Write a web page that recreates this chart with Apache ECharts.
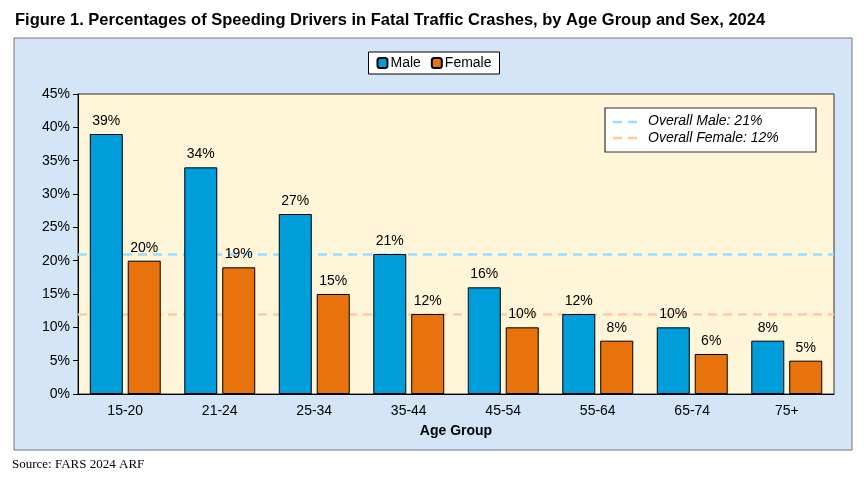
<!DOCTYPE html>
<html>
<head>
<meta charset="utf-8">
<script src="https://cdn.jsdelivr.net/npm/echarts@6/dist/echarts.min.js"></script>
<style>
  html, body { margin: 0; padding: 0; background: #fff; }
  #chart { width: 868px; height: 480px; }
</style>
</head>
<body>
<div id="chart"></div>
<script>
// data
var ageGroups = ['15-20', '21-24', '25-34', '35-44', '45-54', '55-64', '65-74', '75+'];
var maleValues = [39, 34, 27, 21, 16, 12, 10, 8];
var femaleValues = [20, 19, 15, 12, 10, 8, 6, 5];
var overallMale = 21;
var overallFemale = 12;

var font = 'Liberation Sans, Arial, sans-serif';
var myChart = echarts.init(document.getElementById('chart'));

var labelOpt = {
  show: true, position: 'top', distance: 6,
  formatter: '{c}%', color: '#000', fontSize: 14, fontFamily: font
};

var option = {
  animation: false,
  title: {
    text: 'Figure 1. Percentages of Speeding Drivers in Fatal Traffic Crashes, by Age Group and Sex, 2024',
    left: 10, top: 7,
    textStyle: { fontSize: 16.5, fontWeight: 'bold', color: '#000', fontFamily: font }
  },
  graphic: [
    // outer light blue panel
    { type: 'rect', z: -10, shape: { x: 14, y: 38, width: 838, height: 412 },
      style: { fill: '#D3E5F6', stroke: '#777', lineWidth: 1 } },
    { type: 'text', left: 12, top: 458,
      style: { text: 'Source: FARS 2024 ARF', fontSize: 13, fontFamily: 'Liberation Serif, serif', fill: '#000' } },
    // inner legend for the overall lines
    { type: 'rect', z: 10, shape: { x: 605, y: 108, width: 211, height: 44 },
      style: { fill: '#fff', stroke: '#333', lineWidth: 1.2 } },
    { type: 'line', z: 11, shape: { x1: 613, y1: 122, x2: 642, y2: 122 },
      style: { stroke: '#99DDFF', lineWidth: 2.5, lineDash: [9, 6] } },
    { type: 'line', z: 11, shape: { x1: 613, y1: 138, x2: 642, y2: 138 },
      style: { stroke: '#FFCC99', lineWidth: 2.5, lineDash: [9, 6] } },
    { type: 'text', z: 11, x: 648, y: 114,
      style: { text: 'Overall Male: ' + overallMale + '%', fontSize: 14, fontStyle: 'italic', fontFamily: font, fill: '#000' } },
    { type: 'text', z: 11, x: 648, y: 131,
      style: { text: 'Overall Female: ' + overallFemale + '%', fontSize: 14, fontStyle: 'italic', fontFamily: font, fill: '#000' } }
  ],
  legend: {
    data: ['Male', 'Female'],
    top: 52, left: 'center',
    backgroundColor: '#fff', borderColor: '#000', borderWidth: 1,
    padding: [4, 8], itemWidth: 10, itemHeight: 10, itemGap: 10,
    textStyle: { fontSize: 14, fontFamily: font, color: '#000', padding: [0, 0, 0, -2] }
  },
  grid: {
    left: 78, right: 34, top: 94, bottom: 86,
    show: true, backgroundColor: '#FFF5D9', borderColor: '#333', borderWidth: 1
  },
  xAxis: {
    type: 'category', data: ageGroups,
    name: 'Age Group', nameLocation: 'middle', nameGap: 30,
    nameTextStyle: { fontSize: 14, fontWeight: 'bold', fontFamily: font, color: '#000' },
    axisLine: { lineStyle: { color: '#000' } },
    axisTick: { show: false },
    axisLabel: { fontSize: 14, fontFamily: font, color: '#000', margin: 10 }
  },
  yAxis: {
    type: 'value', min: 0, max: 45, interval: 5,
    axisLine: { show: true, lineStyle: { color: '#000' } },
    axisTick: { show: true, inside: false, length: 5, lineStyle: { color: '#000' } },
    splitLine: { show: false },
    axisLabel: { formatter: '{value}%', fontSize: 14, fontFamily: font, color: '#000', margin: 8 }
  },
  series: [
    {
      name: 'Male', type: 'bar', data: maleValues,
      barWidth: 33, barGap: '15%',
      itemStyle: { color: '#009DDB', borderColor: '#000', borderWidth: 1 },
      label: labelOpt,
      markLine: {
        symbol: 'none', silent: true, label: { show: false }, z: 1,
        lineStyle: { color: '#99DDFF', type: [9, 6], width: 2.5 },
        data: [{ yAxis: overallMale }]
      }
    },
    {
      name: 'Female', type: 'bar', data: femaleValues,
      barWidth: 33,
      itemStyle: { color: '#E8730C', borderColor: '#000', borderWidth: 1 },
      label: labelOpt,
      markLine: {
        symbol: 'none', silent: true, label: { show: false }, z: 1,
        lineStyle: { color: '#FFCC99', type: [9, 6], width: 2.5 },
        data: [{ yAxis: overallFemale }]
      }
    }
  ]
};
myChart.setOption(option);
</script>
</body>
</html>
